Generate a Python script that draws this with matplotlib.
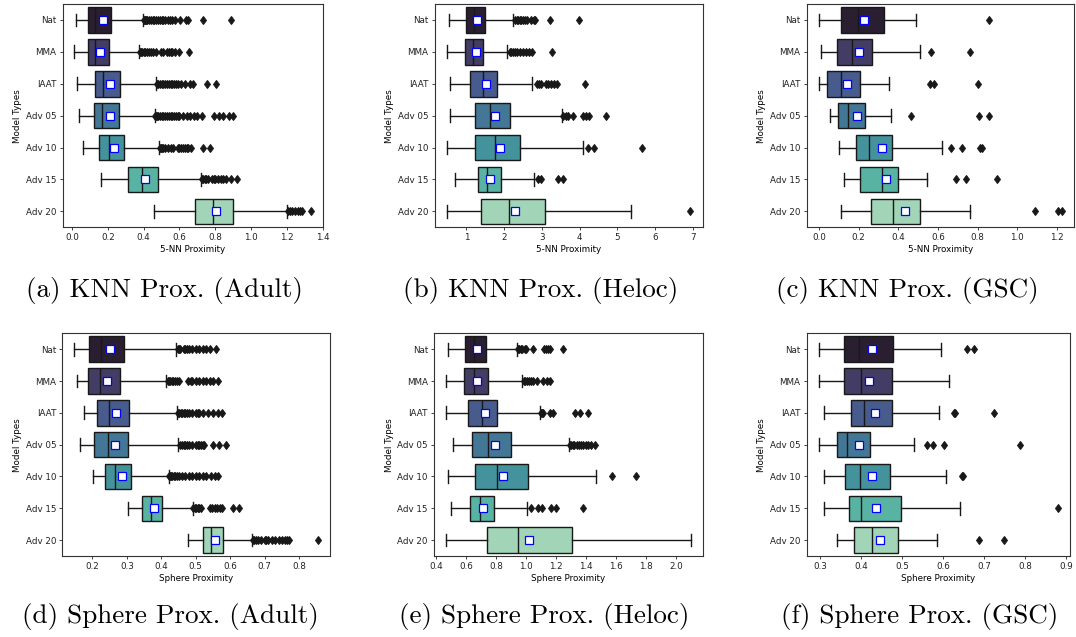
import matplotlib
matplotlib.use("Agg")
import matplotlib.pyplot as plt
import seaborn as sns
import colorsys

W, H = 1076, 637

categories = ["Nat", "MMA", "IAAT", "Adv 05", "Adv 10", "Adv 15", "Adv 20"]

# each row: (whislo, q1, median, q3, whishi, mean)
knn_adult_stats = [
    (0.024, 0.091, 0.130, 0.216, 0.396, 0.175),
    (0.013, 0.089, 0.127, 0.208, 0.376, 0.158),
    (0.030, 0.130, 0.171, 0.270, 0.471, 0.214),
    (0.039, 0.123, 0.167, 0.260, 0.461, 0.210),
    (0.061, 0.153, 0.206, 0.290, 0.487, 0.233),
    (0.162, 0.313, 0.391, 0.478, 0.720, 0.406),
    (0.460, 0.688, 0.787, 0.897, 1.200, 0.802),
]
knn_adult_fliers = [
    [0.40, 0.405, 0.41, 0.415, 0.42, 0.43, 0.44, 0.45, 0.46, 0.47, 0.48, 0.49, 0.50,
     0.51, 0.52, 0.535, 0.545, 0.56, 0.575, 0.605, 0.635, 0.65, 0.73, 0.885],
    [0.38, 0.385, 0.39, 0.40, 0.41, 0.42, 0.43, 0.44, 0.45, 0.47, 0.495, 0.51, 0.53,
     0.54, 0.55, 0.56, 0.575, 0.60, 0.655],
    [0.475, 0.48, 0.49, 0.50, 0.51, 0.52, 0.53, 0.54, 0.55, 0.56, 0.57, 0.58, 0.59,
     0.61, 0.63, 0.66, 0.675, 0.755, 0.805],
    [0.465, 0.47, 0.475, 0.48, 0.49, 0.50, 0.51, 0.52, 0.53, 0.54, 0.55, 0.56, 0.57,
     0.58, 0.59, 0.60, 0.62, 0.64, 0.66, 0.68, 0.70, 0.725, 0.79, 0.82, 0.845, 0.875, 0.90],
    [0.49, 0.495, 0.50, 0.51, 0.52, 0.535, 0.55, 0.565, 0.59, 0.60, 0.61, 0.62, 0.63,
     0.64, 0.65, 0.665, 0.73, 0.77],
    [0.725, 0.73, 0.74, 0.75, 0.76, 0.78, 0.79, 0.80, 0.815, 0.83, 0.845, 0.86, 0.885, 0.92],
    [1.205, 1.215, 1.23, 1.245, 1.26, 1.27, 1.285, 1.335],
]

knn_heloc_stats = [
    (0.54, 0.98, 1.21, 1.50, 2.24, 1.28),
    (0.49, 0.97, 1.18, 1.44, 2.07, 1.25),
    (0.56, 1.11, 1.45, 1.80, 2.73, 1.51),
    (0.58, 1.23, 1.62, 2.16, 3.54, 1.75),
    (0.48, 1.22, 1.76, 2.41, 4.08, 1.90),
    (0.71, 1.32, 1.56, 1.92, 2.78, 1.64),
    (0.49, 1.39, 2.12, 3.09, 5.35, 2.30),
]
knn_heloc_fliers = [
    [2.29, 2.33, 2.37, 2.42, 2.46, 2.5, 2.55, 2.6, 2.7, 2.78, 2.82, 3.21, 3.97],
    [2.15, 2.19, 2.23, 2.28, 2.35, 2.42, 2.5, 2.58, 2.66, 2.74, 3.27],
    [2.86, 2.92, 2.98, 3.1, 3.17, 3.24, 3.33, 3.39, 4.15],
    [3.57, 3.63, 3.7, 3.82, 4.1, 4.16, 4.25, 4.7],
    [4.23, 4.38, 5.65],
    [2.9, 2.98, 3.42, 3.57],
    [6.93],
]

knn_gsc_stats = [
    (0.003, 0.114, 0.198, 0.327, 0.488, 0.228),
    (0.013, 0.092, 0.168, 0.268, 0.508, 0.201),
    (0.000, 0.039, 0.111, 0.205, 0.356, 0.144),
    (0.054, 0.099, 0.146, 0.235, 0.362, 0.191),
    (0.104, 0.186, 0.252, 0.371, 0.621, 0.319),
    (0.126, 0.208, 0.319, 0.399, 0.547, 0.341),
    (0.111, 0.265, 0.372, 0.512, 0.760, 0.433),
]
knn_gsc_fliers = [
    [0.856],
    [0.564, 0.760],
    [0.559, 0.579, 0.802],
    [0.466, 0.809, 0.859],
    [0.664, 0.721, 0.814, 0.822],
    [0.693, 0.742, 0.898],
    [1.091, 1.208, 1.225],
]

sphere_adult_stats = [
    (0.148, 0.189, 0.226, 0.292, 0.442, 0.250),
    (0.154, 0.187, 0.221, 0.279, 0.414, 0.242),
    (0.175, 0.212, 0.249, 0.305, 0.445, 0.268),
    (0.165, 0.206, 0.244, 0.303, 0.449, 0.266),
    (0.201, 0.238, 0.266, 0.312, 0.421, 0.286),
    (0.303, 0.344, 0.370, 0.403, 0.491, 0.379),
    (0.478, 0.520, 0.543, 0.580, 0.664, 0.556),
]
sphere_adult_fliers = [
    [0.448, 0.451, 0.454, 0.465, 0.47, 0.475, 0.48, 0.49, 0.50, 0.51, 0.52, 0.53, 0.54, 0.56],
    [0.418, 0.422, 0.426, 0.43, 0.435, 0.44, 0.445, 0.45, 0.478, 0.485, 0.49, 0.50, 0.51,
     0.52, 0.53, 0.54, 0.55, 0.565],
    [0.448, 0.452, 0.456, 0.46, 0.465, 0.47, 0.475, 0.48, 0.49, 0.50, 0.505, 0.51, 0.52,
     0.535, 0.55, 0.565, 0.575],
    [0.455, 0.46, 0.465, 0.47, 0.475, 0.48, 0.49, 0.50, 0.505, 0.51, 0.515, 0.52, 0.525,
     0.55, 0.568, 0.588],
    [0.422, 0.425, 0.428, 0.432, 0.436, 0.44, 0.445, 0.45, 0.46, 0.47, 0.48, 0.49, 0.50,
     0.51, 0.52, 0.53, 0.545, 0.555, 0.565],
    [0.493, 0.497, 0.50, 0.505, 0.51, 0.515, 0.541, 0.548, 0.555, 0.562, 0.57, 0.575, 0.608, 0.626],
    [0.666, 0.67, 0.675, 0.68, 0.69, 0.70, 0.705, 0.71, 0.72, 0.73, 0.74, 0.75, 0.76,
     0.765, 0.771, 0.854],
]

sphere_heloc_stats = [
    (0.481, 0.592, 0.651, 0.731, 0.937, 0.675),
    (0.467, 0.588, 0.653, 0.747, 0.970, 0.675),
    (0.467, 0.610, 0.706, 0.803, 1.089, 0.724),
    (0.514, 0.642, 0.747, 0.899, 1.283, 0.789),
    (0.481, 0.660, 0.803, 1.015, 1.465, 0.847),
    (0.496, 0.626, 0.691, 0.785, 1.004, 0.713),
    (0.467, 0.736, 0.946, 1.302, 2.096, 1.017),
]
sphere_heloc_fliers = [
    [0.944, 0.955, 0.965, 0.975, 0.99, 1.0, 1.044, 1.12, 1.13, 1.145, 1.156, 1.246],
    [0.988, 0.995, 1.005, 1.02, 1.035, 1.044, 1.071, 1.111, 1.135, 1.156],
    [1.096, 1.103, 1.11, 1.16, 1.178, 1.324, 1.357, 1.409],
    [1.29, 1.30, 1.31, 1.32, 1.335, 1.35, 1.365, 1.38, 1.395, 1.41, 1.43, 1.458],
    [1.570, 1.729],
    [1.033, 1.078, 1.107, 1.167, 1.201, 1.380],
    [],
]

sphere_gsc_stats = [
    (0.296, 0.358, 0.394, 0.478, 0.594, 0.425),
    (0.298, 0.358, 0.399, 0.474, 0.613, 0.420),
    (0.308, 0.374, 0.407, 0.474, 0.590, 0.433),
    (0.296, 0.340, 0.366, 0.421, 0.528, 0.395),
    (0.310, 0.360, 0.396, 0.470, 0.606, 0.427),
    (0.310, 0.369, 0.400, 0.498, 0.640, 0.437),
    (0.340, 0.382, 0.427, 0.489, 0.585, 0.445),
]
sphere_gsc_fliers = [
    [0.659, 0.676],
    [],
    [0.626, 0.629, 0.724],
    [0.560, 0.575, 0.601, 0.788],
    [0.645, 0.649],
    [0.880],
    [0.688, 0.749],
]

knn_adult_ticks = [0.0, 0.2, 0.4, 0.6, 0.8, 1.0, 1.2, 1.4]
knn_heloc_ticks = [1, 2, 3, 4, 5, 6, 7]
knn_gsc_ticks = [0.0, 0.2, 0.4, 0.6, 0.8, 1.0, 1.2]
sphere_adult_ticks = [0.2, 0.3, 0.4, 0.5, 0.6, 0.7, 0.8]
sphere_heloc_ticks = [0.4, 0.6, 0.8, 1.0, 1.2, 1.4, 1.6, 1.8, 2.0]
sphere_gsc_ticks = [0.3, 0.4, 0.5, 0.6, 0.7, 0.8, 0.9]

knn_xlabel = "5-NN Proximity"
sphere_xlabel = "Sphere Proximity"
ylabel = "Model Types"
captions = ["(a) KNN Prox. (Adult)", "(b) KNN Prox. (Heloc)", "(c) KNN Prox. (GSC)",
            "(d) Sphere Prox. (Adult)", "(e) Sphere Prox. (Heloc)", "(f) Sphere Prox. (GSC)"]

# ---- styling / layout ----
pal = [sns.desaturate(c, 0.75) for c in sns.color_palette("mako", len(categories))]
lum = min(colorsys.rgb_to_hls(*c)[1] for c in pal) * 0.6
gray = (lum, lum, lum)

FS = 6.3
LW = 1.0

# axes boxes in pixels: left, top, right, bottom
boxes_px = [
    (62.5, 4, 323, 227.3),
    (434.5, 4, 702.5, 227.3),
    (806.7, 4, 1074, 227.3),
    (62.3, 333.3, 330, 556),
    (434, 333.3, 703, 556),
    (806.7, 333.3, 1070, 556),
]
caption_px = [(164.5, 290), (541, 290), (907, 290), (170, 617), (544, 617), (920, 617)]

panels = [
    (knn_adult_stats, knn_adult_fliers, knn_adult_ticks, knn_xlabel),
    (knn_heloc_stats, knn_heloc_fliers, knn_heloc_ticks, knn_xlabel),
    (knn_gsc_stats, knn_gsc_fliers, knn_gsc_ticks, knn_xlabel),
    (sphere_adult_stats, sphere_adult_fliers, sphere_adult_ticks, sphere_xlabel),
    (sphere_heloc_stats, sphere_heloc_fliers, sphere_heloc_ticks, sphere_xlabel),
    (sphere_gsc_stats, sphere_gsc_fliers, sphere_gsc_ticks, sphere_xlabel),
]

fig = plt.figure(figsize=(W / 100, H / 100), dpi=100)

for i, (stats_rows, fliers, ticks, xlabel) in enumerate(panels):
    l, t, r, b = boxes_px[i]
    ax = fig.add_axes([l / W, 1 - b / H, (r - l) / W, (b - t) / H])
    stats = []
    for cat, row, fl in zip(categories, stats_rows, fliers):
        whislo, q1, med, q3, whishi, mean = row
        stats.append(dict(label=cat, whislo=whislo, q1=q1, med=med, q3=q3,
                          whishi=whishi, mean=mean, fliers=fl))
    art = ax.bxp(
        stats, positions=list(range(len(categories))), widths=0.8,
        orientation="horizontal", patch_artist=True, showmeans=True,
        boxprops=dict(edgecolor=gray, linewidth=LW),
        whiskerprops=dict(color=gray, linewidth=LW),
        capprops=dict(color=gray, linewidth=LW),
        medianprops=dict(color=gray, linewidth=LW),
        flierprops=dict(marker="d", markerfacecolor=gray, markeredgecolor=gray,
                        markersize=4.4, markeredgewidth=0.7, linestyle="none"),
        meanprops=dict(marker="s", markerfacecolor="white", markeredgecolor="blue",
                       markersize=5.2, markeredgewidth=0.9),
    )
    for patch, c in zip(art["boxes"], pal):
        patch.set_facecolor(c)
    for m in art["means"]:
        m.set_zorder(5)
    ax.set_ylim(len(categories) - 0.5, -0.5)
    ax.set_yticks(list(range(len(categories))))
    ax.set_yticklabels(categories)
    ax.set_xticks(ticks)
    ax.tick_params(labelsize=FS, length=2.4, width=0.6, pad=2, colors="#222222")
    for sp in ax.spines.values():
        sp.set_linewidth(0.8)
        sp.set_color("#333333")
    ax.set_xlabel(xlabel, fontsize=FS, labelpad=2)
    ax.set_ylabel(ylabel, fontsize=FS, labelpad=2.5)
    cx, cy = caption_px[i]
    fig.text(cx / W, 1 - cy / H, captions[i], fontsize=19.5, family="cmr10",
             ha="center", va="center")

fig.savefig("out.png", dpi=100)
